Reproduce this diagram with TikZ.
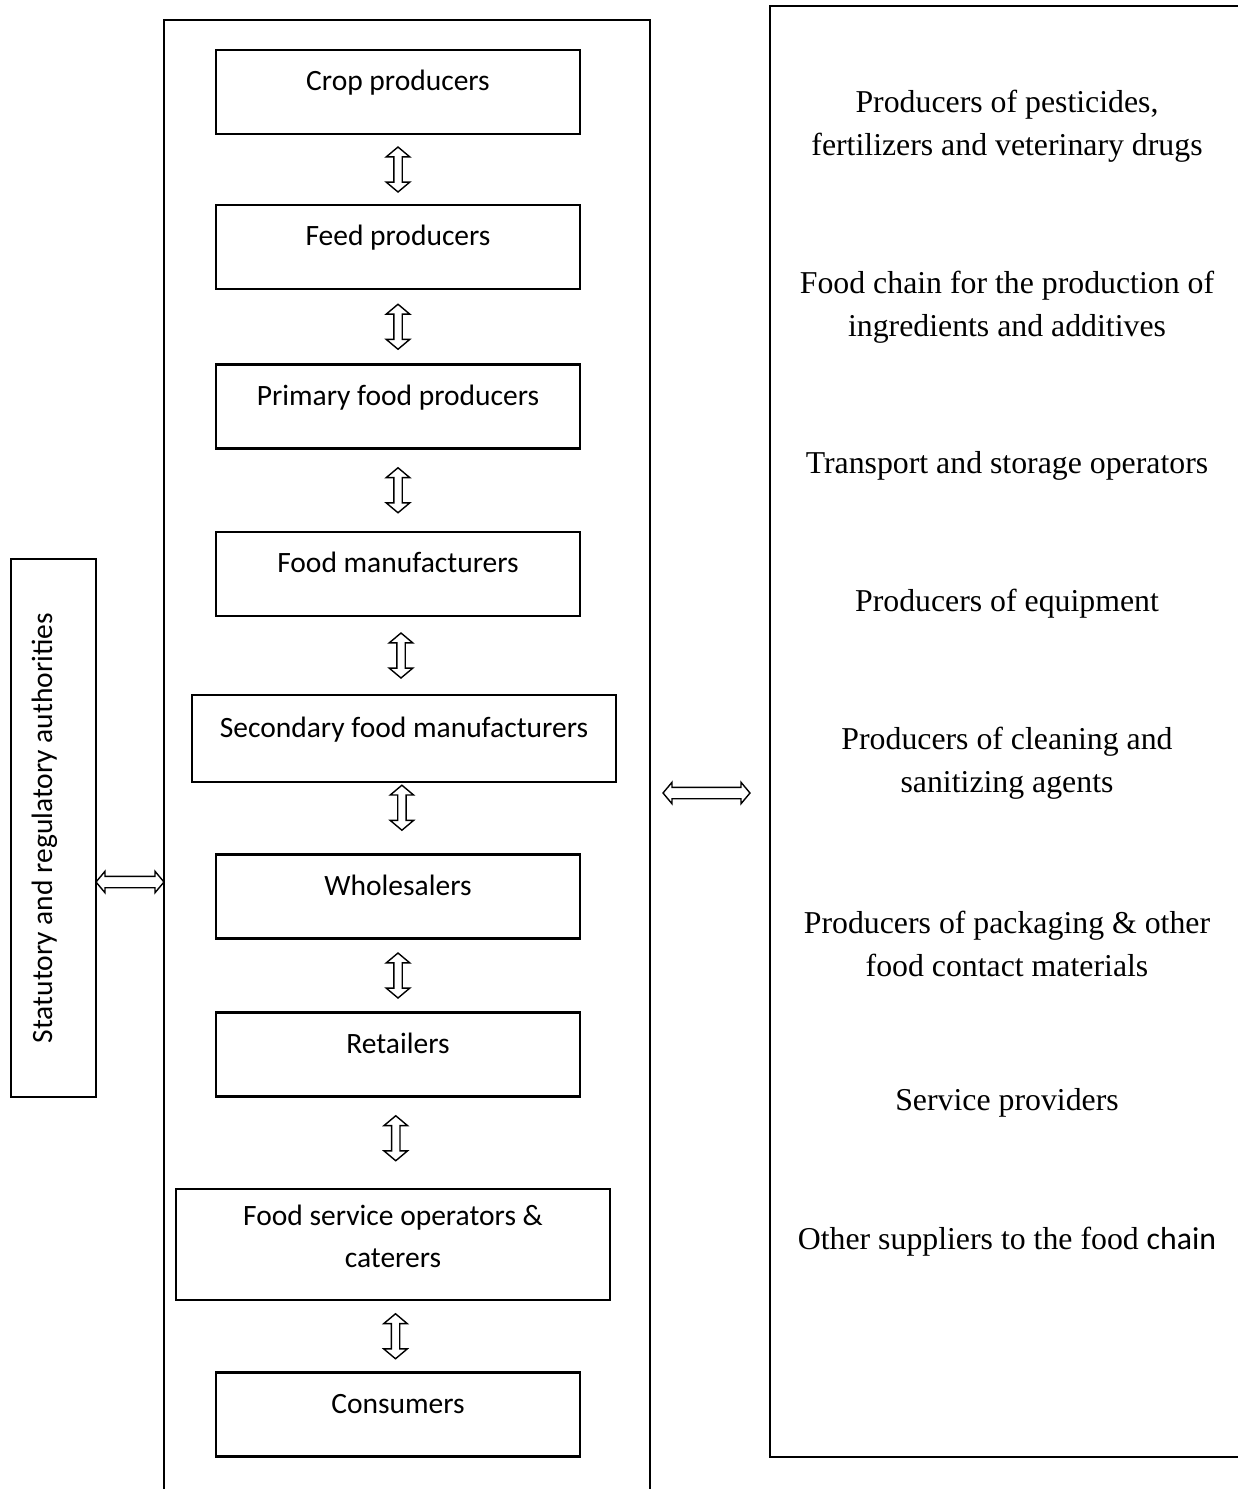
\documentclass[tikz,border=0pt]{standalone}
\usepackage{fontspec}
\setmainfont{Liberation Serif}
\newfontfamily\sansfont{Carlito}
\usetikzlibrary{shapes.arrows,calc}

\begin{document}
\begin{tikzpicture}[x=1pt,y=-1pt,
  frame/.style={draw,line width=2.2pt,inner sep=0pt},
  box/.style={draw,line width=2.2pt,minimum width=364pt,minimum height=84pt,inner sep=0pt,align=center,font=\sansfont\fontsize{29.5}{42}\selectfont},
  stage/.style={box,text height=22pt,text depth=25pt},
  updown/.style={draw,line width=1.4pt,shape=double arrow,rotate=90,minimum height=45pt,inner sep=3.5pt,double arrow head extend=7.5pt,double arrow tip angle=100},
  sideways/.style={draw,line width=1.4pt,shape=double arrow,inner sep=5pt,double arrow head extend=5pt,double arrow tip angle=100},
  supplier/.style={align=center,font=\fontsize{31.8}{43}\selectfont}]
  \useasboundingbox (0,0) rectangle (1238,1489);
  % outer frames
  \node[frame,minimum width=486pt,minimum height=1500pt] (chain) at (407,770) {};
  \node[frame,minimum width=490pt,minimum height=1451pt] (suppliers) at (1015,731.5) {};
  \node[stage,rotate=90,minimum width=538pt,minimum height=85pt] (auth) at (53.5,828) {Statutory and regulatory authorities};
  % food chain stages
  \node[stage] (crop) at (398,92) {Crop producers};
  \node[stage] (feed) at (398,247) {Feed producers};
  \node[stage] (primary) at (398,406.5) {Primary food producers};
  \node[stage] (manuf) at (398,574) {Food manufacturers};
  \node[stage,minimum width=424pt,minimum height=87pt] (secondary) at (404,738.5) {Secondary food manufacturers};
  \node[stage] (whole) at (398,896.5) {Wholesalers};
  \node[stage] (retail) at (398,1054.5) {Retailers};
  \node[box,minimum width=434pt,minimum height=111pt] (service) at (393,1244.5)
    {\raisebox{6pt}[\height][\depth]{\begin{tabular}{@{}c@{}}Food service operators \&\\caterers\end{tabular}}};
  \node[stage] (consumers) at (398,1414.5) {Consumers};
  % arrows between stages
  \node[updown] (a1) at ($(crop.south)!0.5!(feed.north)$ -| 396,0) {};
  \node[updown] (a2) at ($(feed.south)!0.5!(primary.north)$ -| 396,0) {};
  \node[updown] (a3) at ($(primary.south)!0.5!(manuf.north)$ -| 396,0) {};
  \node[updown] (a4) at ($(manuf.south)!0.5!(secondary.north)$ -| 396,0) {};
  \node[updown] (a5) at ($(secondary.south)!0.35!(whole.north)$ -| 396,0) {};
  \node[updown] (a6) at ($(whole.south)!0.5!(retail.north)$ -| 396,0) {};
  \node[updown] (a7) at ($(retail.south)!0.45!(service.north)$ -| 396,0) {};
  \node[updown] (a8) at ($(service.south)!0.5!(consumers.north)$ -| 396,0) {};
  % links to the chain
  \node[sideways,minimum height=68pt] (aauth) at (130,882) {};
  \node[sideways,minimum height=87pt] (asupp) at (706.5,793) {};
  % suppliers
  \node[supplier] (s1) at (1007,126.5) {Producers of pesticides,\\fertilizers and veterinary drugs};
  \node[supplier] (s2) at (1007,307) {Food chain for the production of\\ingredients and additives};
  \node[supplier] (s3) at (1007,466) {Transport and storage operators};
  \node[supplier] (s4) at (1007,604) {Producers of equipment};
  \node[supplier] (s5) at (1007,763.5) {Producers of cleaning and\\sanitizing agents};
  \node[supplier] (s6) at (1007,943.5) {Producers of packaging \& other\\food contact materials};
  \node[supplier] (s7) at (1007,1103) {Service providers};
  \node[supplier] (s8) at (1007,1242) {Other suppliers to the food {\sansfont chain}};
\end{tikzpicture}
\end{document}
